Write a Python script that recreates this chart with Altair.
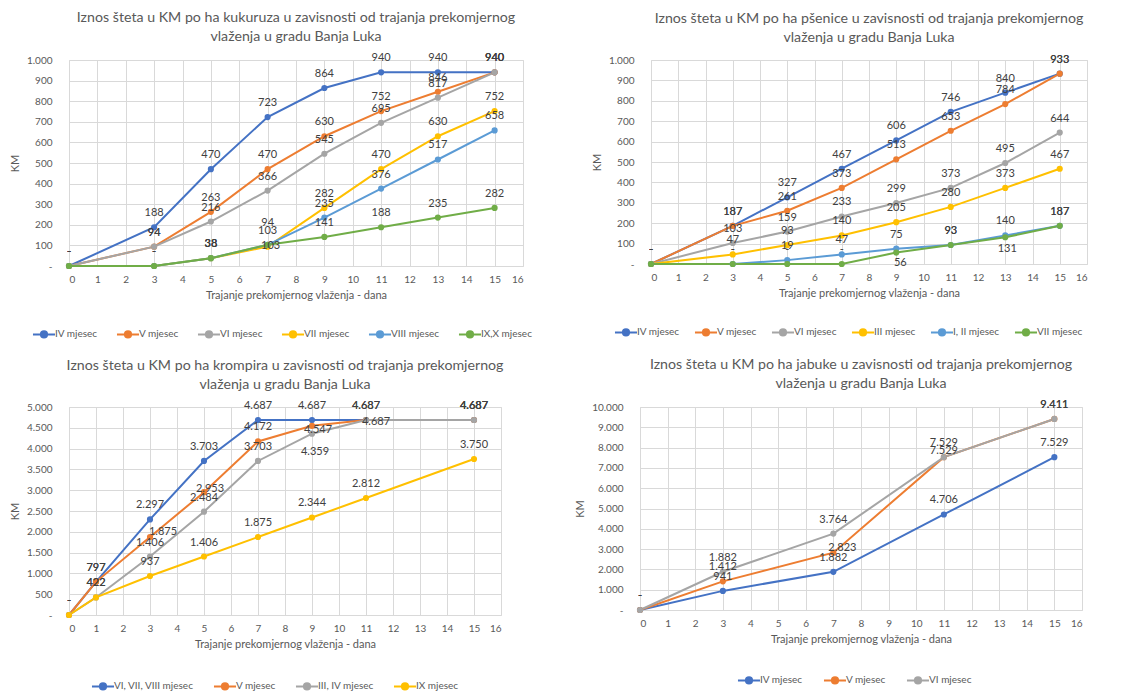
import altair as alt
import pandas as pd

FONT = "Lato"
TXT = "#595959"
LBL = "#404040"
GRID = "#D9D9D9"
X_TITLE = "Trajanje prekomjernog vlaženja - dana"

BLUE, ORANGE, GRAY, YELLOW, LBLUE, GREEN = "#4472C4", "#ED7D31", "#A5A5A5", "#FFC000", "#5B9BD5", "#70AD47"

# ---------- Panel 1: kukuruz ----------
kuk_title = ["Iznos šteta u KM po ha kukuruza u zavisnosti od trajanja prekomjernog",
             "vlaženja u gradu Banja Luka"]
kuk_days = [0, 3, 5, 7, 9, 11, 13, 15]
kuk_series = ["IV mjesec", "V mjesec", "VI mjesec", "VII mjesec", "VIII mjesec", "IX,X mjesec"]
kuk_iv = [0, 188, 470, 723, 864, 940, 940, 940]
kuk_v = [0, 94, 263, 470, 630, 752, 846, 940]
kuk_vi = [0, 94, 216, 366, 545, 695, 817, 940]
kuk_vii = [0, 0, 38, 94, 282, 470, 630, 752]
kuk_viii = [0, 0, 38, 103, 235, 376, 517, 658]
kuk_ix_x = [0, 0, 38, 103, 141, 188, 235, 282]

# ---------- Panel 2: psenica ----------
psen_title = ["Iznos šteta u KM po ha pšenice u zavisnosti od trajanja prekomjernog",
              "vlaženja u gradu Banja Luka"]
psen_days = [0, 3, 5, 7, 9, 11, 13, 15]
psen_series = ["IV mjesec", "V mjesec", "VI mjesec", "III mjesec", "I, II mjesec", "VII mjesec"]
psen_iv = [0, 187, 327, 467, 606, 746, 840, 933]
psen_v = [0, 187, 261, 373, 513, 653, 784, 933]
psen_vi = [0, 103, 159, 233, 299, 373, 495, 644]
psen_iii = [0, 47, 93, 140, 205, 280, 373, 467]
psen_i_ii = [0, 0, 19, 47, 75, 93, 140, 187]
psen_vii = [0, 0, 0, 0, 56, 93, 131, 187]

# ---------- Panel 3: krompir ----------
krom_title = ["Iznos šteta u KM po ha krompira u zavisnosti od trajanja prekomjernog",
              "vlaženja u gradu Banja Luka"]
krom_days = [0, 1, 3, 5, 7, 9, 11, 15]
krom_series = ["VI, VII, VIII mjesec", "V mjesec", "III, IV mjesec", "IX mjesec"]
krom_vi_viii = [0, 797, 2297, 3703, 4687, 4687, 4687, 4687]
krom_v = [0, 797, 1875, 2953, 4172, 4547, 4687, 4687]
krom_iii_iv = [0, 422, 1406, 2484, 3703, 4359, 4687, 4687]
krom_ix = [0, 422, 937, 1406, 1875, 2344, 2812, 3750]

# ---------- Panel 4: jabuka ----------
jab_title = ["Iznos šteta u KM po ha jabuke u zavisnosti od trajanja prekomjernog",
             "vlaženja u gradu Banja Luka"]
jab_days = [0, 3, 7, 11, 15]
jab_series = ["IV mjesec", "V mjesec", "VI mjesec"]
jab_iv = [0, 941, 1882, 4706, 7529]
jab_v = [0, 1412, 2823, 7529, 9411]
jab_vi = [0, 1882, 3764, 7529, 9411]

# label placement tweaks (series index, day) -> (dx, dy); default above
DEFAULT_LBL = (0, -14)
kuk_lbl = {(3, 7): (0, -24), (5, 7): (3, 1)}
psen_lbl = {(5, 9): (4, 10), (5, 13): (2, 12)}
krom_lbl = {(2, 9): (3, 18), (2, 11): (10, 2), (1, 9): (6, 4), (1, 3): (13, -5), (1, 5): (6, -3)}
jab_lbl = {(1, 7): (9, -5), (1, 11): (0, -6)}

LEGEND_SYMBOL = "M-1.6,0H1.6M-0.45,0a0.45,0.45 0 1,0 0.9,0a0.45,0.45 0 1,0 -0.9,0"


def fmt(v):
    return "-" if v == 0 else f"{v:,}".replace(",", ".")


def panel(key, title, days, names, values, colors, ymax, ystep, w, h, lbl, leg_x, leg_y, col_pad):
    rows = []
    for si, (n, vals) in enumerate(zip(names, values)):
        for d, v in zip(days, vals):
            dx, dy = lbl.get((si, d), DEFAULT_LBL)
            rows.append(dict(series=n, order=si, day=d, val=v, label=fmt(v), dx=dx, dy=dy))
    df = pd.DataFrame(rows)
    sfield = f"series_{key}"
    df[sfield] = df["series"]

    xenc = alt.X("day:Q", scale=alt.Scale(domain=[0, 16], nice=False),
                 axis=alt.Axis(values=list(range(17)), title=X_TITLE, grid=True, gridColor=GRID,
                               domain=False, ticks=False, labelColor=TXT, labelFontSize=10,
                               labelFont=FONT, labelPadding=8, titleFont=FONT, titleFontSize=11,
                               titleColor=TXT, titleFontWeight="normal", titlePadding=5,
                               labelAngle=0, labelOverlap=False))
    yenc = alt.Y("val:Q", scale=alt.Scale(domain=[0, ymax], nice=False),
                 axis=alt.Axis(values=list(range(0, ymax + 1, ystep)), title="KM", grid=True,
                               gridColor=GRID, domain=False, ticks=False, labelColor=TXT,
                               labelFontSize=10, labelFont=FONT, labelPadding=17,
                               labelOverlap=False,
                               labelExpr="datum.value == 0 ? '-' : replace(format(datum.value, ','), ',', '.')",
                               titleFont=FONT, titleFontSize=11, titleColor=TXT,
                               titleFontWeight="normal", titlePadding=6))
    color = alt.Color(f"{sfield}:N", scale=alt.Scale(domain=names, range=colors),
                      legend=alt.Legend(title=None, orient="none", direction="horizontal",
                                        legendX=leg_x, legendY=leg_y, gridAlign="each",
                                        symbolType=LEGEND_SYMBOL, symbolSize=190,
                                        symbolStrokeWidth=2, labelFont=FONT, labelFontSize=10,
                                        labelColor=TXT, columnPadding=col_pad, labelOffset=3,
                                        labelLimit=200))
    base = alt.Chart(df).encode(x=xenc, y=yenc)
    lines = base.mark_line(strokeWidth=2).encode(color=color, detail="order:O", order="day:Q")
    pts = base.mark_point(filled=True, size=38, opacity=1).encode(color=color)
    layers = [lines, pts]
    for (dx, dy) in sorted(set(zip(df.dx, df.dy))):
        layers.append(
            base.transform_filter(f"datum.dx == {dx} && datum.dy == {dy}")
            .mark_text(font=FONT, fontSize=11, color=LBL, dx=dx, dy=dy, baseline="middle")
            .encode(text="label:N")
        )
    return alt.layer(*layers).properties(
        width=w, height=h,
        title=alt.TitleParams(text=title, font=FONT, fontSize=14.2, color=TXT, fontWeight="normal",
                              anchor="middle", frame="group", offset=8, lineHeight=19),
    )


p1 = panel("a", kuk_title, kuk_days, kuk_series,
           [kuk_iv, kuk_v, kuk_vi, kuk_vii, kuk_viii, kuk_ix_x],
           [BLUE, ORANGE, GRAY, YELLOW, LBLUE, GREEN], 1000, 100, 454, 206, kuk_lbl, -33, 206 + 60, 14)
p2 = panel("b", psen_title, psen_days, psen_series,
           [psen_iv, psen_v, psen_vi, psen_iii, psen_i_ii, psen_vii],
           [BLUE, ORANGE, GRAY, YELLOW, LBLUE, GREEN], 1000, 100, 436, 204, psen_lbl, -33, 204 + 60, 10)
p3 = panel("c", krom_title, krom_days, krom_series,
           [krom_vi_viii, krom_v, krom_iii_iv, krom_ix],
           [BLUE, ORANGE, GRAY, YELLOW], 5000, 500, 432, 208, krom_lbl, 26, 208 + 63, 15)
p4 = panel("d", jab_title, jab_days, jab_series,
           [jab_iv, jab_v, jab_vi],
           [BLUE, ORANGE, GRAY], 10000, 1000, 442, 203, jab_lbl, 101, 203 + 62, 16)

row1 = alt.hconcat(p1, p2, spacing=57).resolve_scale(color="independent")
row2 = alt.hconcat(p3, p4, spacing=70).resolve_scale(color="independent")
chart = alt.vconcat(row1, row2, spacing=14).resolve_scale(color="independent")
chart = chart.configure_view(stroke=None).configure(
    background="white", padding={"left": 0, "top": 2, "right": 0, "bottom": 0})

chart.save("out.html", embed_options={"renderer": "svg", "actions": False})
